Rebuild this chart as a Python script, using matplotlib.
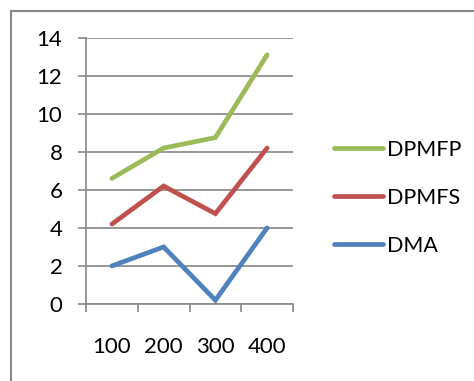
import numpy as np
import matplotlib
matplotlib.use('Agg')
import matplotlib.pyplot as plt
from matplotlib.lines import Line2D

plt.rcParams['font.family'] = ['Lato', 'DejaVu Sans']

#--------------------Data--------------------------
categories = ['100', '200', '300', '400']
dma = [2.0, 3.0, 0.2, 4.0]
dpmfs = [4.2, 6.2, 4.75, 8.2]
dpmfp = [6.6, 8.2, 8.75, 13.1]

series_names = ['DMA', 'DPMFS', 'DPMFP']
series_colors = ['#4F81BD', '#C0504D', '#9BBB59']

grid_color = '#868686'
font_size = 16

#--------------------Plot--------------------------
W, H = 474, 381
fig = plt.figure(figsize=(W / 100, H / 100), dpi=100)

# outer chart border (runs off right and bottom)
fig.add_artist(Line2D([11 / W, 11 / W], [0, 1 - 11 / H], transform=fig.transFigure,
                      color=grid_color, lw=1.5))
fig.add_artist(Line2D([11 / W, 1], [1 - 11 / H, 1 - 11 / H], transform=fig.transFigure,
                      color=grid_color, lw=1.5))

ax = fig.add_axes([86 / W, 1 - 304 / H, (293 - 86) / W, (304 - 37.7) / H])

x = np.arange(len(categories))
handles = []
for name, vals, col in zip(series_names, [dma, dpmfs, dpmfp], series_colors):
    h, = ax.plot(x, vals, color=col, lw=3.4, solid_capstyle='round',
                 solid_joinstyle='miter', label=name, zorder=3)
    handles.append(h)

ax.set_xlim(-0.5, len(categories) - 0.5)
ax.set_ylim(0, 14)
ax.set_yticks(np.arange(0, 15, 2))
ax.yaxis.grid(True, color=grid_color, lw=1.2)
ax.set_axisbelow(True)

ax.set_xticks(np.arange(-0.5, len(categories), 1.0))
ax.set_xticklabels([])
ax.set_xticks(x, minor=True)
ax.set_xticklabels(categories, minor=True)
ax.tick_params(axis='x', which='major', length=6, width=1.2, color=grid_color, direction='out')
ax.tick_params(axis='x', which='minor', length=0, pad=24, labelsize=font_size)
ax.tick_params(axis='y', length=6, width=1.2, color=grid_color, pad=11, labelsize=font_size)

for s in ['top', 'right']:
    ax.spines[s].set_visible(False)
for s in ['left', 'bottom']:
    ax.spines[s].set_color(grid_color)
    ax.spines[s].set_linewidth(1.2)

leg = fig.legend(handles[::-1], series_names[::-1], loc='center left',
                 bbox_to_anchor=(323 / W, 1 - 198 / H), frameon=False,
                 fontsize=15.5, handlelength=2.3, handletextpad=0.15,
                 labelspacing=1.3, borderpad=0)

fig.savefig('out.png', dpi=100)
